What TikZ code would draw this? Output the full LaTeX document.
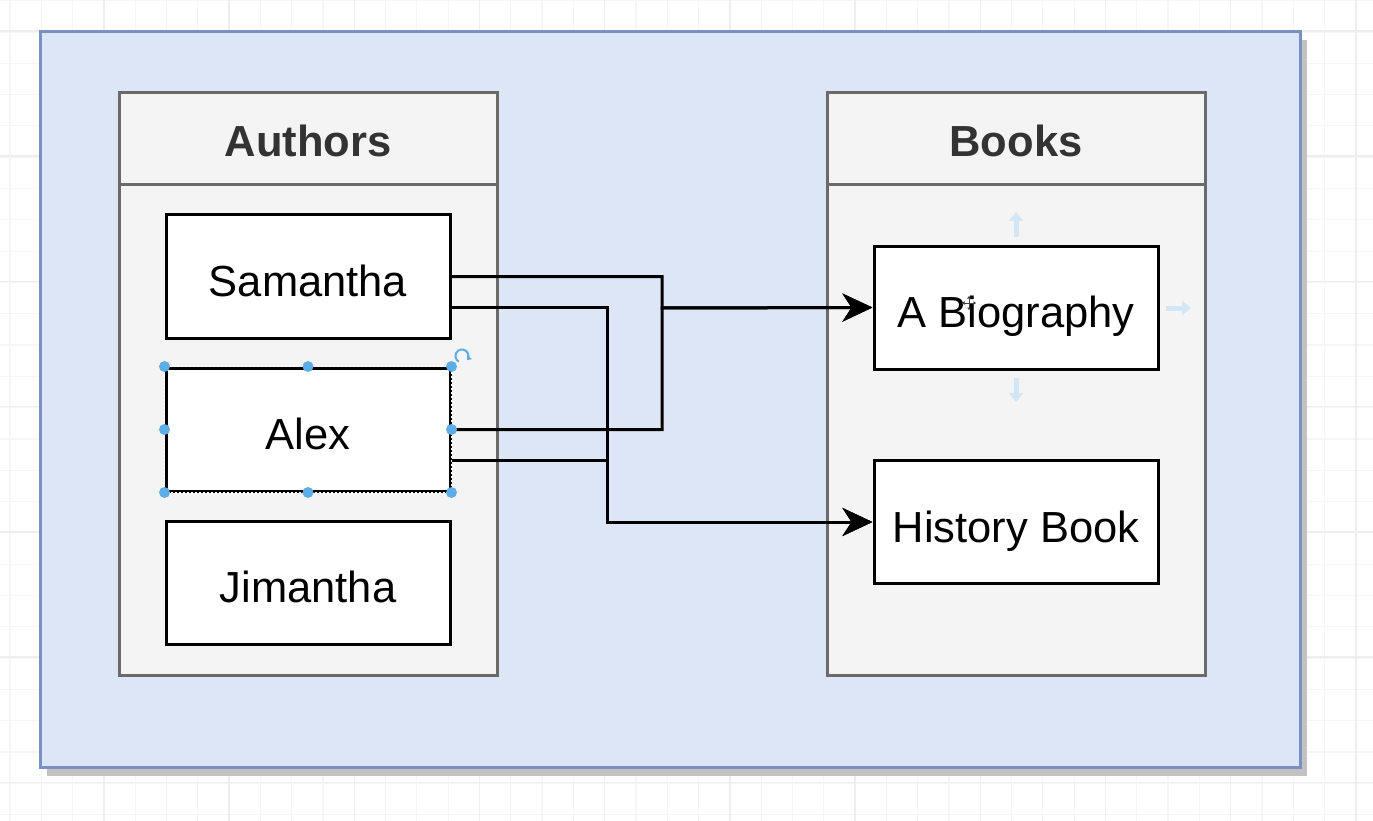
\documentclass[tikz,border=0pt]{standalone}
\usepackage{fontspec}
\setmainfont{Liberation Sans}
\usetikzlibrary{arrows.meta}
\definecolor{gridminor}{HTML}{F6F6F6}
\definecolor{gridmajor}{HTML}{EEEEEE}
\definecolor{outerfill}{HTML}{DDE6F6}
\definecolor{outerline}{HTML}{7891C1}
\definecolor{shadowc}{HTML}{C2C2C2}
\definecolor{lanefill}{HTML}{F4F4F4}
\definecolor{laneline}{HTML}{6A6A6A}
\definecolor{headtext}{HTML}{333333}
\definecolor{handleblue}{HTML}{5DADE6}
\definecolor{hoverblue}{HTML}{D3E6F6}
\tikzset{
  lane/.style={draw=laneline, fill=lanefill, line width=3pt},
  headlabel/.style={font=\fontsize{43.5}{50}\selectfont\bfseries, text=headtext, inner sep=0pt},
  entity/.style={draw=black, fill=white, line width=3pt, minimum width=284pt, minimum height=123pt, inner sep=0pt, text height=44pt, text depth=4pt, font=\fontsize{43.5}{50}\selectfont},
  conn/.style={draw=black, line width=3pt, -{Stealth[length=30pt, width=28pt, inset=9pt]}},
  handle/.style={circle, fill=handleblue, inner sep=0pt, minimum size=11pt},
  hover/.style={draw=hoverblue, line width=5pt, -{Triangle[length=9pt, width=14pt]}}
}
\begin{document}
\begin{tikzpicture}[x=1pt, y=-1pt]
\useasboundingbox (0,0) rectangle (1373,821);
\fill[white] (0,0) rectangle (1373,821);
% grid
\foreach \i in {0,...,43} {
  \draw[gridminor, line width=1.2pt] ({9.9+31.3*\i},0) -- ({9.9+31.3*\i},821);
}
\foreach \j in {0,...,26} {
  \draw[gridminor, line width=1.2pt] (0,{0.7+31.3*\j}) -- (1373,{0.7+31.3*\j});
}
\foreach \i in {0,...,10} {
  \draw[gridmajor, line width=1.4pt] ({103.8+125.2*\i},0) -- ({103.8+125.2*\i},821);
}
\foreach \j in {0,...,6} {
  \draw[gridmajor, line width=1.4pt] (0,{31.0+125.2*\j}) -- (1373,{31.0+125.2*\j});
}
% outer container with shadow
\fill[shadowc] (47,40) rectangle (1307,776);
\draw[fill=outerfill, draw=outerline, line width=3pt] (40,32) rectangle (1300,767);
% lanes
\draw[lane] (119,93) rectangle (497,675);
\draw[laneline, line width=3pt] (119,185) -- (497,185);
\node[headlabel] (authors) at (308,141) {Authors};
\draw[lane] (827,93) rectangle (1205,675);
\draw[laneline, line width=3pt] (827,185) -- (1205,185);
\node[headlabel] (books) at (1016,141) {Books};
% entities
\node[entity] (sam) at (308,276.5) {Samantha};
\node[entity] (alex) at (308,429.5) {Alex};
\node[entity] (jim) at (308,582.5) {Jimantha};
\node[entity] (bio) at (1016,307.5) {A Biography};
\node[entity] (hist) at (1016,522) {History Book};
% junctions
\coordinate (j1) at (662,308);
\coordinate (j2) at (607,522);
% connectors
\draw[conn] (sam.east) -| (j1) -- (bio.west);
\draw[conn] (alex.east) -| (j1) -- (bio.west);
\draw[conn] ([yshift=-31pt]sam.east) -| (j2) -- (hist.west);
\draw[conn] ([yshift=-31pt]alex.east) -| (j2) -- (hist.west);
% selection of Alex
\draw[white, line width=1.2pt, dash pattern=on 2pt off 2pt] (alex.north west) rectangle (alex.south east);
\foreach \a in {north west, north, north east, west, east, south west, south, south east} {
  \node[handle] at (alex.\a) {};
}
\draw[handleblue, line width=2pt, -{Triangle[length=4pt, width=6pt]}] (462,356) ++(120:6.5) arc[start angle=120, end angle=400, radius=6.5];
% hover arrows on Biography
\draw[hover] (1016,237) -- (1016,212);
\draw[hover] (1016,378) -- (1016,402);
\draw[hover] (1166,308) -- (1191,308);
% move cursor
\draw[black!75, line width=1pt, {Triangle[length=2.5pt,width=3.5pt]}-{Triangle[length=2.5pt,width=3.5pt]}] (962,303) -- (976,303);
\draw[black!75, line width=1pt, {Triangle[length=2.5pt,width=3.5pt]}-{Triangle[length=2.5pt,width=3.5pt]}] (969,296) -- (969,310);
\end{tikzpicture}
\end{document}
